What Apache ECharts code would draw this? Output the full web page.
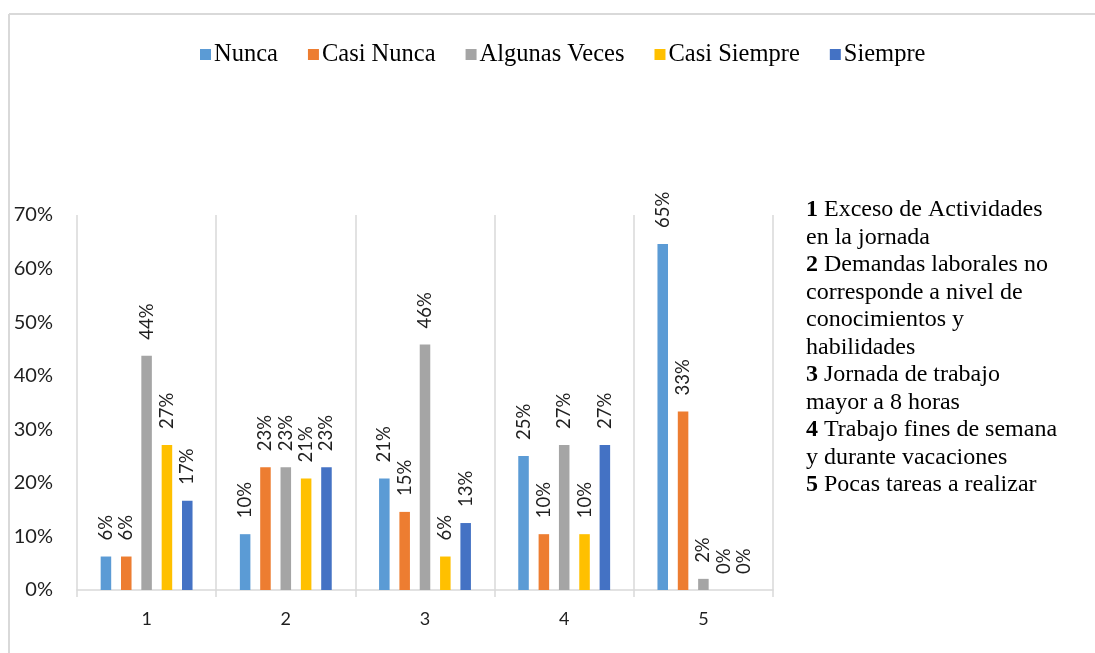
<!DOCTYPE html>
<html>
<head>
<meta charset="utf-8">
<script src="https://cdn.jsdelivr.net/npm/echarts@6/dist/echarts.min.js"></script>
<style>
  html, body { margin: 0; padding: 0; background: #ffffff; }
  #chart { width: 1095px; height: 653px; }
</style>
</head>
<body>
<div id="chart"></div>
<script>
// Survey items (x axis) and answer frequencies, in percent
const categories = ['1', '2', '3', '4', '5'];
const seriesNames = ['Nunca', 'Casi Nunca', 'Algunas Veces', 'Casi Siempre', 'Siempre'];
const nunca       = [6.25, 10.42, 20.83, 25.00, 64.58];
const casiNunca   = [6.25, 22.92, 14.58, 10.42, 33.33];
const algunasVeces = [43.75, 22.92, 45.83, 27.08, 2.08];
const casiSiempre = [27.08, 20.83, 6.25, 10.42, 0];
const siempre     = [16.67, 22.92, 12.50, 27.08, 0];
const yTicks = [0, 10, 20, 30, 40, 50, 60, 70];

// Key describing each item number
const itemNotes = [
  ['1', 'Exceso de Actividades', 'en la jornada'],
  ['2', 'Demandas laborales no', 'corresponde a nivel de', 'conocimientos y', 'habilidades'],
  ['3', 'Jornada de trabajo', 'mayor a 8 horas'],
  ['4', 'Trabajo fines de semana', 'y durante vacaciones'],
  ['5', 'Pocas tareas a realizar']
];

const colors = ['#5B9BD5', '#ED7D31', '#A5A5A5', '#FFC000', '#4472C4'];
const values = [nunca, casiNunca, algunasVeces, casiSiempre, siempre];

const SERIF = '"Liberation Serif", "Times New Roman", serif';
const SANS = 'Lato, "Open Sans", sans-serif';

const noteText = itemNotes.map(function (n) {
  const rest = n.slice(1);
  return '{b|' + n[0] + '} ' + rest.join('\n');
}).join('\n');

const chart = echarts.init(document.getElementById('chart'), null, { renderer: 'canvas' });

chart.setOption({
  backgroundColor: '#ffffff',
  animation: false,
  color: colors,
  legend: {
    data: seriesNames,
    left: 195,
    top: 37,
    itemWidth: 11,
    itemHeight: 11,
    itemGap: 30,
    icon: 'rect',
    textStyle: { fontFamily: SERIF, fontSize: 24.5, color: '#000000', padding: [0, 0, 0, -2] }
  },
  grid: { left: 77, right: 322, top: 215, bottom: 63, containLabel: false },
  xAxis: {
    type: 'category',
    data: categories,
    boundaryGap: true,
    axisLine: { show: true, lineStyle: { color: '#d9d9d9', width: 1.5 } },
    axisTick: { show: true, length: 7, lineStyle: { color: '#d9d9d9', width: 1.5 } },
    splitLine: { show: true, lineStyle: { color: '#d9d9d9', width: 1.5 } },
    axisLabel: { fontFamily: SANS, fontSize: 18, color: '#1f1f1f', margin: 20 }
  },
  yAxis: {
    type: 'value',
    min: yTicks[0],
    max: yTicks[yTicks.length - 1],
    interval: 10,
    axisLine: { show: false },
    axisTick: { show: false },
    splitLine: { show: false },
    axisLabel: { fontFamily: SANS, fontSize: 20, color: '#1f1f1f', margin: 24, formatter: '{value}%' }
  },
  series: seriesNames.map(function (name, i) {
    return {
      name: name,
      type: 'bar',
      data: values[i],
      barGap: '93%',
      barCategoryGap: '34%',
      itemStyle: { color: colors[i] },
      label: {
        show: true,
        position: 'top',
        rotate: 90,
        align: 'left',
        verticalAlign: 'middle',
        distance: 16,
        fontFamily: SANS,
        fontSize: 18.5,
        color: '#1f1f1f',
        formatter: function (p) { return Math.round(p.value) + '%'; }
      }
    };
  }),
  graphic: [
    // chart frame (top and left edges)
    { type: 'line', shape: { x1: 9, y1: 14, x2: 1095, y2: 14 }, style: { stroke: '#d9d9d9', lineWidth: 2 } },
    { type: 'line', shape: { x1: 9, y1: 14, x2: 9, y2: 653 }, style: { stroke: '#d9d9d9', lineWidth: 2 } },
    {
      type: 'text',
      left: 806,
      top: 196,
      style: {
        text: noteText,
        fontFamily: SERIF,
        fontSize: 24,
        lineHeight: 27.5,
        fill: '#000000',
        rich: {
          b: { fontFamily: SERIF, fontSize: 24, fontWeight: 'bold', lineHeight: 27.5, fill: '#000000' }
        }
      }
    }
  ]
});
</script>
</body>
</html>
